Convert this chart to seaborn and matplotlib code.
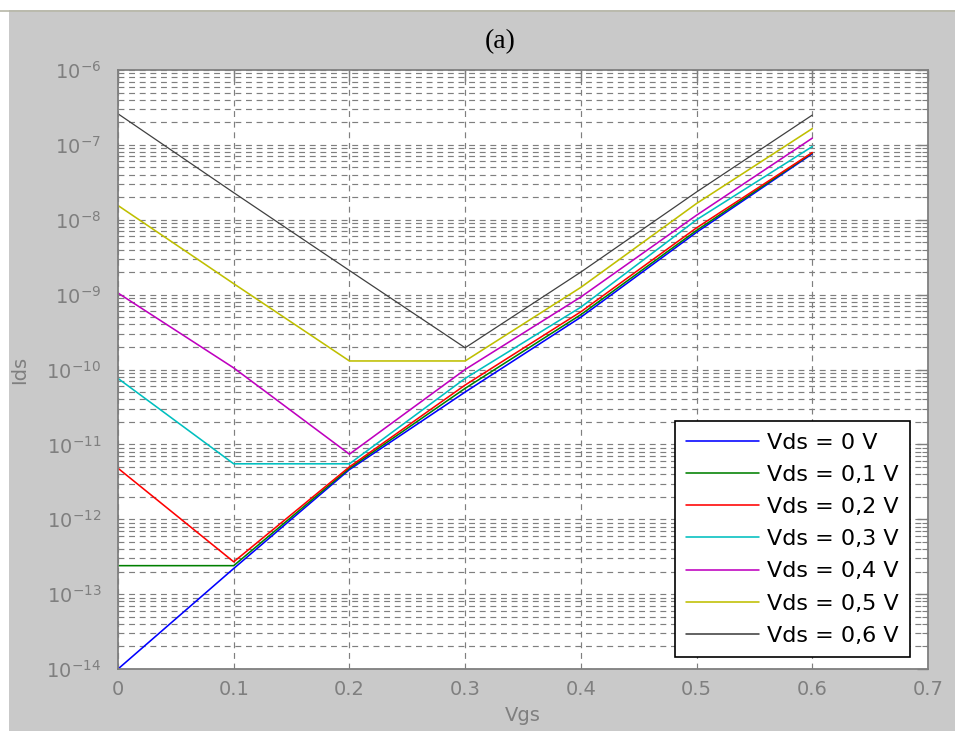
import numpy as np
import pandas as pd
import matplotlib
matplotlib.use("Agg")
import matplotlib.pyplot as plt
from matplotlib.ticker import NullFormatter, LogFormatterMathtext, FixedLocator
from matplotlib.patches import Rectangle
from matplotlib.lines import Line2D
import seaborn as sns

# Gate voltage sweep (V)
vgs = [0.0, 0.1, 0.2, 0.3, 0.4, 0.5, 0.6]

# Drain current Ids (A) for each drain voltage
ids_vds_00 = [1.0e-14, 2.2e-13, 4.6e-12, 5.0e-11, 5.0e-10, 6.8e-9, 7.6e-8]
ids_vds_01 = [2.4e-13, 2.4e-13, 4.8e-12, 5.6e-11, 5.4e-10, 7.2e-9, 7.8e-8]
ids_vds_02 = [4.8e-12, 2.7e-13, 5.0e-12, 6.2e-11, 5.9e-10, 7.8e-9, 7.9e-8]
ids_vds_03 = [7.6e-11, 5.5e-12, 5.5e-12, 7.6e-11, 6.8e-10, 1.0e-8, 9.5e-8]
ids_vds_04 = [1.05e-9, 1.05e-10, 7.4e-12, 1.0e-10, 9.3e-10, 1.15e-8, 1.23e-7]
ids_vds_05 = [1.55e-8, 1.4e-9, 1.3e-10, 1.3e-10, 1.25e-9, 1.65e-8, 1.65e-7]
ids_vds_06 = [2.6e-7, 2.3e-8, 2.1e-9, 1.95e-10, 2.0e-9, 2.35e-8, 2.5e-7]

series_labels = ["Vds = 0 V", "Vds = 0,1 V", "Vds = 0,2 V", "Vds = 0,3 V",
                 "Vds = 0,4 V", "Vds = 0,5 V", "Vds = 0,6 V"]
series_values = [ids_vds_00, ids_vds_01, ids_vds_02, ids_vds_03,
                 ids_vds_04, ids_vds_05, ids_vds_06]
series_colors = ["#0000ff", "#008000", "#ff0000", "#00bfbf",
                 "#bf00bf", "#bfbf00", "#404040"]

x_ticks = [0.0, 0.1, 0.2, 0.3, 0.4, 0.5, 0.6, 0.7]
x_tick_labels = ["0", "0.1", "0.2", "0.3", "0.4", "0.5", "0.6", "0.7"]
y_decades = list(range(-14, -5))

rows = []
for lab, vals in zip(series_labels, series_values):
    for xv, yv in zip(vgs, vals):
        rows.append({"Vgs": xv, "Ids": yv, "series": lab})
df = pd.DataFrame(rows)

sns.set_theme(style="white")
plt.rcParams["font.family"] = ["DejaVu Sans"]

W, H = 955, 731
fig = plt.figure(figsize=(W / 100, H / 100), dpi=100, facecolor="#c9c9c9")

# page margins around the figure window
fig.patches.append(Rectangle((0, 1 - 10 / H), 1, 10 / H, transform=fig.transFigure,
                             facecolor="white", edgecolor="none", zorder=0))
fig.patches.append(Rectangle((0, 0), 9 / W, 1, transform=fig.transFigure,
                             facecolor="white", edgecolor="none", zorder=0))
fig.lines.append(Line2D([0, 1], [1 - 10.5 / H, 1 - 10.5 / H], transform=fig.transFigure,
                        color="#b8b8a8", lw=1.2, zorder=1))

ax = fig.add_axes([118 / W, 1 - 669 / H, (928 - 118) / W, (669 - 70) / H])
ax.set_facecolor("white")

sns.lineplot(data=df, x="Vgs", y="Ids", hue="series", hue_order=series_labels,
             palette=series_colors, estimator=None, sort=False, linewidth=1.15,
             ax=ax, legend=True)
ax.lines[len(series_labels) - 1].set_linewidth(0.9)

ax.set_yscale("log")
ax.set_xlim(0, 0.7)
ax.set_ylim(1e-14, 1e-6)

grey = "#7f7f7f"
ax.xaxis.set_major_locator(FixedLocator(x_ticks))
ax.set_xticklabels(x_tick_labels)
ax.yaxis.set_major_locator(FixedLocator([10.0 ** d for d in y_decades]))
ax.yaxis.set_minor_locator(FixedLocator([m * 10.0 ** d for d in y_decades[:-1]
                                         for m in range(2, 10)]))
ax.yaxis.set_major_formatter(LogFormatterMathtext())
ax.yaxis.set_minor_formatter(NullFormatter())

dash = (0, (5, 4))
ax.grid(True, which="major", linestyle=dash, color=grey, linewidth=0.85)
ax.yaxis.grid(True, which="minor", linestyle=dash, color=grey, linewidth=0.85)
ax.set_axisbelow(True)

ax.tick_params(which="both", direction="in", top=True, right=True, colors=grey,
               labelcolor=grey, labelsize=14)
ax.tick_params(which="major", length=8, width=1)
ax.tick_params(which="minor", length=4, width=0.8)
ax.tick_params(axis="x", pad=8)
ax.tick_params(axis="y", pad=12)
for sp in ax.spines.values():
    sp.set_color(grey)
    sp.set_linewidth(1.3)

ax.set_xlabel("Vgs", fontsize=14, color=grey)
ax.set_ylabel("Ids", fontsize=14, color=grey)
ax.xaxis.set_label_coords(0.5, -0.061)
ax.yaxis.set_label_coords(-0.11, 0.5)

handles, labels = ax.get_legend_handles_labels()
leg = ax.legend(handles, labels, loc="lower right", bbox_to_anchor=(0.978, 0.02),
                borderaxespad=0, fontsize=16, frameon=True, fancybox=False,
                framealpha=1, edgecolor="black", handlelength=3.3,
                handletextpad=0.36, labelspacing=0.55, borderpad=0.5)
leg.get_frame().set_linewidth(1.2)
for t in leg.get_texts():
    t.set_color("black")

fig.text(500 / W, 1 - 42 / H, "(a)", ha="center", va="center", fontsize=20,
         family=["Liberation Serif", "DejaVu Serif"], color="black")

fig.savefig("out.png", dpi=100, facecolor=fig.get_facecolor())
